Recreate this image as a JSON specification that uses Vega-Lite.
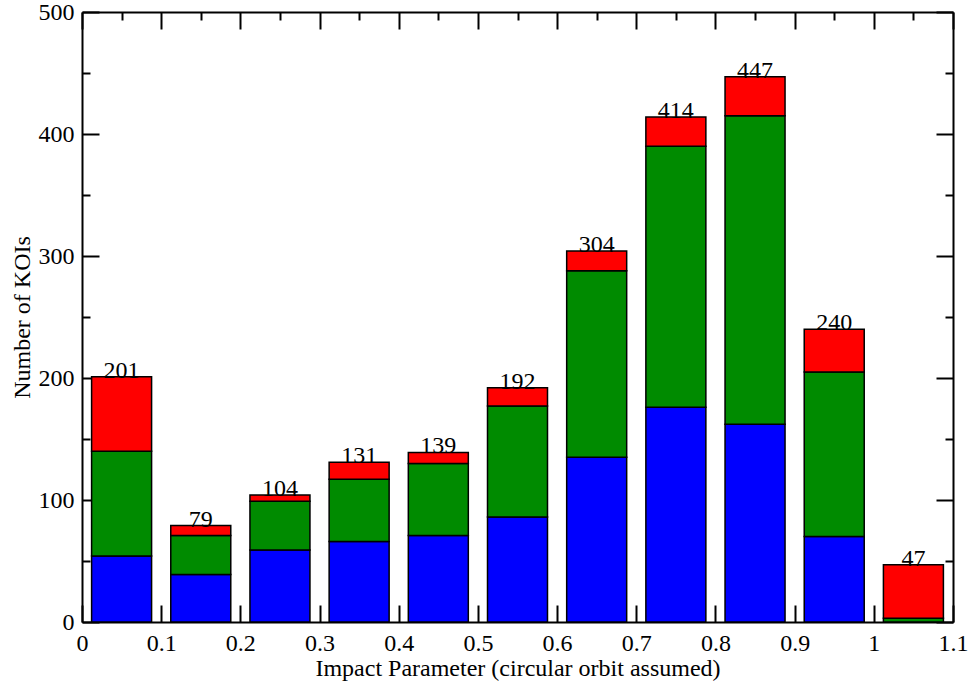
{
  "$schema": "https://vega.github.io/schema/vega-lite/v6.json",
  "width": 871,
  "height": 610,
  "autosize": {"type": "none"},
  "padding": {"left": 82, "top": 12, "right": 19, "bottom": 68},
  "background": "white",
  "config": {
    "view": {"stroke": null},
    "font": "Liberation Serif",
    "axis": {
      "labelFont": "Liberation Serif",
      "labelFontSize": 24,
      "labelColor": "black",
      "titleFont": "Liberation Serif",
      "titleFontSize": 24,
      "titleFontWeight": "normal",
      "titleColor": "black",
      "domainColor": "black",
      "domainWidth": 2,
      "tickColor": "black",
      "tickWidth": 2,
      "grid": false,
      "labelFlush": false,
      "labelOverlap": false
    }
  },
  "data": {
    "values": [
      {"b": 0.05, "cat": "A", "n": 54}, {"b": 0.05, "cat": "B", "n": 86}, {"b": 0.05, "cat": "C", "n": 61},
      {"b": 0.15, "cat": "A", "n": 39}, {"b": 0.15, "cat": "B", "n": 32}, {"b": 0.15, "cat": "C", "n": 8},
      {"b": 0.25, "cat": "A", "n": 59}, {"b": 0.25, "cat": "B", "n": 40}, {"b": 0.25, "cat": "C", "n": 5},
      {"b": 0.35, "cat": "A", "n": 66}, {"b": 0.35, "cat": "B", "n": 51}, {"b": 0.35, "cat": "C", "n": 14},
      {"b": 0.45, "cat": "A", "n": 71}, {"b": 0.45, "cat": "B", "n": 59}, {"b": 0.45, "cat": "C", "n": 9},
      {"b": 0.55, "cat": "A", "n": 86}, {"b": 0.55, "cat": "B", "n": 91}, {"b": 0.55, "cat": "C", "n": 15},
      {"b": 0.65, "cat": "A", "n": 135}, {"b": 0.65, "cat": "B", "n": 153}, {"b": 0.65, "cat": "C", "n": 16},
      {"b": 0.75, "cat": "A", "n": 176}, {"b": 0.75, "cat": "B", "n": 214}, {"b": 0.75, "cat": "C", "n": 24},
      {"b": 0.85, "cat": "A", "n": 162}, {"b": 0.85, "cat": "B", "n": 253}, {"b": 0.85, "cat": "C", "n": 32},
      {"b": 0.95, "cat": "A", "n": 70}, {"b": 0.95, "cat": "B", "n": 135}, {"b": 0.95, "cat": "C", "n": 35},
      {"b": 1.05, "cat": "A", "n": 0}, {"b": 1.05, "cat": "B", "n": 3}, {"b": 1.05, "cat": "C", "n": 44}
    ]
  },
  "resolve": {"axis": {"x": "independent", "y": "independent"}},
  "layer": [
    {
      "mark": {"type": "bar", "size": 60, "stroke": "black", "strokeWidth": 1.5},
      "encoding": {
        "x": {
          "field": "b", "type": "quantitative",
          "scale": {"domain": [0, 1.1], "nice": false, "zero": false, "padding": 0},
          "axis": {
            "orient": "bottom",
            "values": [0, 0.05, 0.1, 0.15, 0.2, 0.25, 0.3, 0.35, 0.4, 0.45, 0.5, 0.55, 0.6, 0.65, 0.7, 0.75, 0.8, 0.85, 0.9, 0.95, 1, 1.05, 1.1],
            "labelExpr": "abs(datum.value*10 - round(datum.value*10)) > 0.25 ? '' : format(datum.value, '~g')",
            "tickSize": {"condition": {"test": "abs(datum.value*10 - round(datum.value*10)) > 0.25", "value": -8}, "value": -17},
            "labelPadding": 26,
            "title": "Impact Parameter (circular orbit assumed)",
            "titlePadding": -8
          }
        },
        "y": {
          "field": "n", "type": "quantitative", "stack": "zero",
          "scale": {"domain": [0, 500], "nice": false, "padding": 0},
          "axis": {
            "orient": "left",
            "values": [0, 50, 100, 150, 200, 250, 300, 350, 400, 450, 500],
            "labelExpr": "datum.value % 100 != 0 ? '' : datum.label",
            "tickSize": {"condition": {"test": "datum.value % 100 != 0", "value": -8}, "value": -17},
            "labelPadding": 25,
            "title": "Number of KOIs",
            "titlePadding": 4
          }
        },
        "color": {
          "field": "cat", "type": "nominal",
          "scale": {"domain": ["A", "B", "C"], "range": ["#0000ff", "#008b00", "#ff0000"]},
          "legend": null
        },
        "order": {"field": "cat", "sort": "ascending"}
      }
    },
    {
      "mark": {"type": "text", "font": "Liberation Serif", "fontSize": 24, "baseline": "alphabetic", "dy": 1, "color": "black"},
      "encoding": {
        "x": {
          "field": "b", "type": "quantitative",
          "scale": {"domain": [0, 1.1], "nice": false, "zero": false, "padding": 0},
          "axis": {
            "orient": "top",
            "values": [0, 0.05, 0.1, 0.15, 0.2, 0.25, 0.3, 0.35, 0.4, 0.45, 0.5, 0.55, 0.6, 0.65, 0.7, 0.75, 0.8, 0.85, 0.9, 0.95, 1, 1.05, 1.1],
            "labels": false,
            "tickSize": {"condition": {"test": "abs(datum.value*10 - round(datum.value*10)) > 0.25", "value": -8}, "value": -17},
            "title": null
          }
        },
        "y": {
          "aggregate": "sum", "field": "n", "type": "quantitative",
          "scale": {"domain": [0, 500], "nice": false, "padding": 0},
          "axis": {
            "orient": "right",
            "values": [0, 50, 100, 150, 200, 250, 300, 350, 400, 450, 500],
            "labels": false,
            "tickSize": {"condition": {"test": "datum.value % 100 != 0", "value": -8}, "value": -17},
            "title": null
          }
        },
        "text": {"aggregate": "sum", "field": "n", "type": "quantitative"}
      }
    }
  ]
}
